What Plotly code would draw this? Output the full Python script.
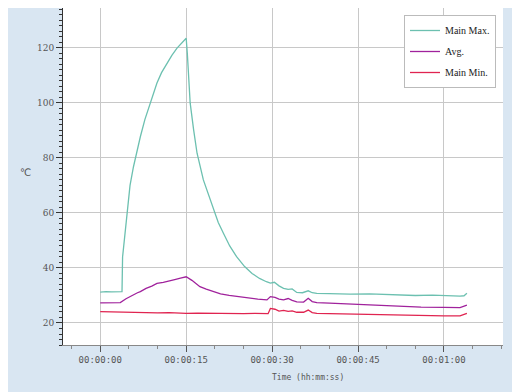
import plotly.graph_objects as go

# ---- data (seconds, °C) ----
t_max = [0, 1, 2, 3, 3.8, 3.9, 4.1, 4.6, 5.2, 5.8, 6.4, 7.0, 7.8, 8.7, 9.9, 10.7, 11.6, 12.5,
         13.4, 14.2, 15.0, 15.2, 15.7, 16.3, 16.9, 18.0, 19.0, 19.8, 20.6, 21.5, 22.6, 23.8,
         25.2, 26.5, 27.8, 29.0, 29.7, 30.4, 31.2, 32.0, 32.8, 33.5, 34.3, 35.3, 36.3, 37.0,
         37.8, 40, 43.6, 47, 50, 52.3, 55, 58, 60, 62.8, 63.5, 64]
v_max = [31.2, 31.4, 31.3, 31.4, 31.4, 44.0, 48.0, 60.0, 70.0, 76.8, 82.5, 87.7, 94.0, 99.9,
         107.2, 111.0, 114.4, 117.3, 119.9, 121.8, 123.5, 118.0, 99.9, 90.2, 81.7, 72.0, 66.0,
         61.1, 56.5, 52.6, 48.0, 44.1, 40.5, 38.0, 36.2, 35.0, 34.5, 34.8, 33.5, 32.6, 32.2,
         32.4, 31.1, 31.0, 31.7, 31.0, 30.8, 30.7, 30.5, 30.6, 30.3, 30.2, 30.0, 30.1, 29.9,
         29.8, 29.9, 30.8]

t_avg = [0, 1, 2, 3, 3.5, 4.5, 5.5, 6.5, 7.0, 8, 9, 9.9, 11, 12, 13, 14, 15, 16, 17.4, 18.5,
         19.8, 21, 22.5, 24.5, 26.2, 27.5, 29.1, 29.7, 30.5, 31.2, 32, 32.8, 33.5, 34.3, 35.5,
         36.3, 37, 37.8, 40, 43.6, 48, 52.3, 56, 60, 62.8, 64]
v_avg = [27.3, 27.4, 27.3, 27.4, 27.4, 28.8, 30.0, 31.0, 31.4, 32.6, 33.4, 34.4, 34.8, 35.4,
         35.8, 36.3, 36.8, 35.5, 33.2, 32.3, 31.4, 30.6, 30.0, 29.4, 29.0, 28.7, 28.4, 29.6,
         29.3, 28.7, 28.4, 28.9, 28.2, 27.7, 27.6, 29.0, 27.8, 27.4, 27.2, 26.9, 26.4, 25.9,
         25.8, 25.7, 25.6, 26.5]

t_min = [0, 2, 4, 6, 8, 10, 12, 14, 15, 17, 19, 21, 23, 25, 27, 29.3, 29.7, 30.5, 31.2, 32,
         32.8, 33.5, 34.3, 35.5, 36.3, 37, 37.8, 40, 43.6, 48, 52.3, 56, 60, 62.8, 64]
v_min = [24.1, 24.0, 23.9, 23.8, 23.9, 23.7, 23.8, 23.6, 23.5, 23.6, 23.5, 23.5, 23.4, 23.4,
         23.5, 23.4, 25.3, 25.0, 24.3, 24.6, 24.2, 24.4, 23.9, 23.9, 24.7, 23.8, 23.5, 23.4,
         23.2, 23.0, 22.7, 22.7, 22.6, 22.6, 23.5]

x_tickvals = [0, 15, 30, 45, 60]
x_ticktext = ["00:00:00", "00:00:15", "00:00:30", "00:00:45", "00:01:00"]
y_tickvals = [20, 40, 60, 80, 100, 120]

series = [
    ("Main Max.", t_max, v_max, "#6cc0b0"),
    ("Avg.", t_avg, v_avg, "#a0229c"),
    ("Main Min.", t_min, v_min, "#e02450"),
]

fig = go.Figure()
for i, (name, t, v, c) in enumerate(series):
    fig.add_trace(go.Scatter(x=t, y=v, name=name, mode="lines",
                             line=dict(color=c, width=1.3), legendgroup=str(i)))

# the page places the figure at (8, 8); plot area spans x 63..503, y 8..345 on the page
PL, PR, PT, PB = 63, 503, 8, 345
W, H = PR - PL, PB - PT


def px_x(x):
    return (x - PL) / W


def px_y(y):
    return 1 - (y - PT) / H


tick_font = dict(family="DejaVu Sans Mono", size=9, color="#555555")

fig.update_layout(
    width=512, height=384,
    margin=dict(l=PL - 8, r=520 - PR, t=PT - 8, b=392 - PB),
    paper_bgcolor="#d9e6f2",
    plot_bgcolor="white",
    showlegend=True,
    legend=dict(x=px_x(404), y=px_y(15), xanchor="left", yanchor="top",
                bgcolor="white", bordercolor="#bbbbbb", borderwidth=1,
                font=dict(family="Liberation Serif", size=10, color="#222222"),
                tracegroupgap=2, itemwidth=30),
    xaxis=dict(range=[-6.5, 70.3], tickvals=x_tickvals, ticktext=x_ticktext,
               showgrid=True, gridcolor="#c8c8c8", gridwidth=1, zeroline=False,
               ticks="outside", ticklen=6, tickcolor="#555555",
               showline=True, linecolor="#888888",
               minor=dict(dtick=5, tick0=0, ticks="outside", ticklen=3, tickcolor="#888888"),
               tickfont=tick_font),
    yaxis=dict(range=[12, 134.5], tickvals=y_tickvals,
               showgrid=True, gridcolor="#c8c8c8", gridwidth=1, zeroline=False,
               ticks="outside", ticklen=6, tickcolor="#333333",
               showline=True, linecolor="#333333",
               minor=dict(dtick=2, tick0=0, ticks="outside", ticklen=3, tickcolor="#333333"),
               tickfont=dict(family="DejaVu Serif", size=9, color="#555555")),
    annotations=[
        dict(text="℃", xref="paper", yref="paper", x=px_x(18), y=px_y(173),
             showarrow=False, font=dict(family="DejaVu Sans", size=10, color="#555555")),
        dict(text="Time (hh:mm:ss)", xref="paper", yref="paper", x=px_x(308),
             y=px_y(384), showarrow=False,
             font=dict(family="DejaVu Sans Mono", size=8, color="#555555")),
    ],
)

fig.write_html("out.html")
